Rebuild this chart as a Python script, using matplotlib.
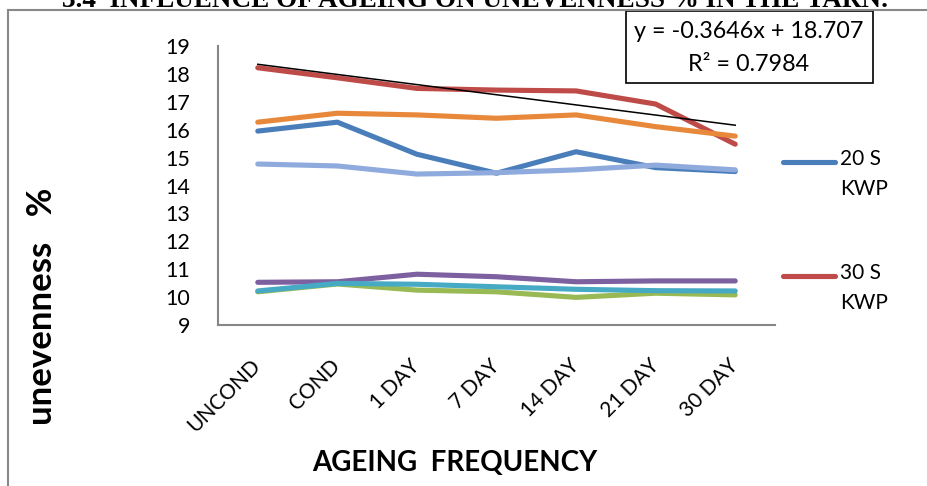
import numpy as np
import matplotlib
matplotlib.use("Agg")
import matplotlib.pyplot as plt
from matplotlib.lines import Line2D
from matplotlib.patches import Rectangle

categories = ["UNCOND", "COND", "1 DAY", "7 DAY", "14 DAY", "21 DAY", "30 DAY"]
s20_kwp = [15.95, 16.27, 15.12, 14.44, 15.21, 14.64, 14.50]
s30_kwp = [18.22, 17.86, 17.48, 17.42, 17.39, 16.92, 15.48]
series3 = [10.19, 10.47, 10.25, 10.19, 9.99, 10.14, 10.08]
series4 = [10.53, 10.55, 10.82, 10.73, 10.55, 10.58, 10.58]
series5 = [10.22, 10.49, 10.46, 10.37, 10.28, 10.23, 10.22]
series6 = [16.27, 16.59, 16.53, 16.41, 16.53, 16.11, 15.77]
series7 = [14.77, 14.70, 14.41, 14.46, 14.56, 14.73, 14.56]
legend_names = ["20 S\nKWP", "30 S\nKWP"]
yticks = [9, 10, 11, 12, 13, 14, 15, 16, 17, 18, 19]
eq_text = "y = -0.3646x + 18.707"
r2_text = "R\u00b2 = 0.7984"
title = "3.4  INFLUENCE OF AGEING ON UNEVENNESS % IN THE YARN."

colors = ["#4A7EBB", "#BE4B48", "#98B954", "#7D60A0", "#46AAC5", "#E8883A", "#8FAADC"]

plt.rcParams['font.family'] = ['Lato', 'DejaVu Sans']

W, H = 928, 486
fig = plt.figure(figsize=(W / 100, H / 100), dpi=100)
ax = fig.add_axes([218 / W, 1 - 325 / H, (775 - 218) / W, (325 - 46) / H])

x = np.arange(1, len(categories) + 1)
all_series = [s20_kwp, s30_kwp, series3, series4, series5, series6, series7]
for vals, c in zip(all_series, colors):
    ax.plot(x, vals, color=c, lw=3.7, solid_capstyle='round', solid_joinstyle='round')

# linear trendline of the 30 S KWP series
coef = np.polyfit(x, s30_kwp, 1)
ax.plot(x, np.polyval(coef, x), color='black', lw=1.1)

ax.set_xlim(0.5, len(categories) + 0.5)
ax.set_ylim(9, 19)
ax.set_yticks(yticks)
ax.set_xticks(x)
ax.set_xticklabels(categories, rotation=45, ha='right', va='center', rotation_mode='anchor', fontsize=15)
ax.tick_params(axis='y', length=0, pad=20, labelsize=15.5)
ax.tick_params(axis='x', length=0, pad=27)
for s in ['top', 'right']:
    ax.spines[s].set_visible(False)
for s in ['left', 'bottom']:
    ax.spines[s].set_color('#868686')
    ax.spines[s].set_linewidth(1.5)

fig.text(455 / W, 1 - 463 / H, "AGEING  FREQUENCY", ha='center', va='center', fontsize=20, fontweight='bold')
fig.text(42 / W, 1 - 306 / H, "unevenness   %", ha='center', va='center', rotation=90, fontsize=25, fontweight='bold')

# legend (first two series), handle aligned with first text line
legend_y = [162, 276]
for name, c, yy in zip(legend_names, colors[:2], legend_y):
    fig.add_artist(Line2D([783 / W, 835 / W], [1 - yy / H, 1 - yy / H], transform=fig.transFigure,
                          color=c, lw=3.7, solid_capstyle='round'))
    fig.text(840 / W, 1 - (yy - 13) / H, name, ha='left', va='top', fontsize=15, linespacing=1.62)

# equation box
fig.patches.append(Rectangle((626 / W, 1 - 83 / H), (873 - 626) / W, (83 - 11) / H,
                             transform=fig.transFigure, fill=False, edgecolor='black', lw=1.2))
fig.text(749 / W, 1 - 31 / H, eq_text, ha='center', va='center', fontsize=16.8)
fig.text(749 / W, 1 - 64 / H, r2_text, ha='center', va='center', fontsize=16.8)

# outer chart border (top and left visible)
fig.add_artist(Line2D([8 / W, 1.0], [1 - 10 / H, 1 - 10 / H], transform=fig.transFigure, color='#888888', lw=1.5))
fig.add_artist(Line2D([8 / W, 8 / W], [0, 1 - 10 / H], transform=fig.transFigure, color='#888888', lw=1.5))

fig.text(475 / W, 1 - 7 / H, title, ha='center', va='baseline', fontsize=19.5, fontweight='bold',
         family=['Liberation Serif', 'DejaVu Serif'])

fig.savefig("out.png", dpi=100)
